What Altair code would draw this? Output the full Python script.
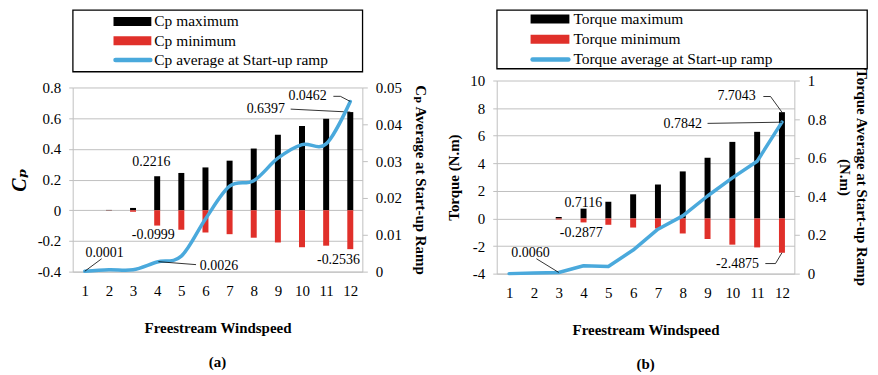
import altair as alt
import pandas as pd

SERIF = "Liberation Serif, Times New Roman, DejaVu Serif, serif"
RED = "#e0302a"
BLUE = "#4aa9dc"
GRID = "#bfbfbf"

ws = list(range(1, 13))

# Panel (a): power coefficient
cp_max = [0.0, 0.002, 0.015, 0.2216, 0.243, 0.279, 0.323, 0.402, 0.492, 0.549, 0.596, 0.6397]
cp_min = [0.0, -0.001, -0.01, -0.0999, -0.127, -0.145, -0.156, -0.179, -0.21, -0.241, -0.231, -0.2536]
cp_avg = [0.0001, 0.0005, 0.0005, 0.0026, 0.0042, 0.0143, 0.0232, 0.0247, 0.0308, 0.0345, 0.0347, 0.0462]

# Panel (b): torque
tq_max = [0.0, 0.0, 0.1, 0.7116, 1.21, 1.75, 2.46, 3.41, 4.4, 5.55, 6.28, 7.7043]
tq_min = [0.0, 0.0, -0.08, -0.2877, -0.46, -0.66, -0.73, -1.09, -1.49, -1.9, -2.1, -2.4875]
tq_avg = [0.0, 0.003, 0.006, 0.041, 0.037, 0.122, 0.23, 0.299, 0.402, 0.496, 0.582, 0.7842]

legend_a = ["Cp maximum", "Cp minimum", "Cp average at Start-up ramp"]
legend_b = ["Torque maximum", "Torque minimum", "Torque average at Start-up ramp"]

# annotations (text placed in data units)
a_left_txt = ["0.2216", "-0.0999", "-0.2536", "0.6397"]
a_left_x = [3.76, 3.84, 11.51, 8.5]
a_left_y = [0.312, -0.162, -0.325, 0.662]
a_right_txt = ["0.0462", "0.0001", "0.0026"]
a_right_x = [10.23, 1.82, 6.56]
a_right_y = [0.0476, 0.00514, 0.00162]
# leader segments (x, y, x2, y2) in data units
a_left_seg = [(12, 0.6397, 9.53, 0.659)]
a_right_seg = [(12, 0.0462, 11.59, 0.0476), (11.59, 0.0476, 11.3, 0.0476),
               (1, 0.0001, 1.70, 0.0035), (4.05, 0.0027, 5.61, 0.0019)]

b_left_txt = ["7.7043", "0.7116", "-0.2877", "-2.4875"]
b_left_x = [10.17, 3.99, 3.91, 10.21]
b_left_y = [8.84, 1.13, -1.04, -3.27]
b_right_txt = ["0.7842", "0.0060"]
b_right_x = [8.0, 1.86]
b_right_y = [0.773, 0.108]
b_left_seg = [(12, 7.7043, 11.54, 8.84), (11.54, 8.84, 11.25, 8.84),
              (12, -2.4875, 11.74, -3.27), (11.74, -3.27, 11.33, -3.27)]
b_right_seg = [(12, 0.7842, 9.0, 0.778), (3, 0.006, 2.1, 0.077)]


def x_enc(title):
    return alt.X("ws:Q", scale=alt.Scale(domain=[0.5, 12.5], nice=False, zero=False, padding=0),
                 axis=alt.Axis(values=ws, title=title, tickSize=0, labelPadding=12,
                               titlePadding=22, domainColor=GRID, grid=False, format="d",
                               labelFontSize=15, titleFontSize=15, titleFontWeight="bold"))


def y_enc(dom, vals, title, orient, italic, tsize, tpad, lpad, tick, grid):
    return alt.Y("val:Q", scale=alt.Scale(domain=dom, nice=False, zero=False, padding=0),
                 axis=alt.Axis(orient=orient, values=vals, labelExpr="'' + datum.value",
                               title=title, grid=grid, gridColor=GRID, domainColor=GRID,
                               tickColor=GRID, tickSize=tick, labelPadding=lpad,
                               titlePadding=tpad, labelFontSize=15, titleFontSize=tsize,
                               titleFontWeight="bold", titleLineHeight=17,
                               titleFontStyle="italic" if italic else "normal"))


def legend_chart(labels, width, height, pad, sx1, sx2, tx):
    df = pd.DataFrame({"label": labels, "kind": ["bar", "bar", "line"],
                       "color": ["black", RED, BLUE]})
    y = alt.Y("label:N", sort=labels, axis=None, scale=alt.Scale(type="point", padding=pad))
    bars = alt.Chart(df).transform_filter("datum.kind == 'bar'").mark_rule(strokeWidth=9).encode(
        x=alt.value(sx1), x2=alt.value(sx2), y=y, color=alt.Color("color:N", scale=None))
    line = alt.Chart(df).transform_filter("datum.kind == 'line'").mark_rule(
        strokeWidth=4.5, strokeCap="round").encode(
        x=alt.value(sx1 + 2), x2=alt.value(sx2 - 1), y=y, color=alt.Color("color:N", scale=None))
    text = alt.Chart(df).mark_text(align="left", baseline="middle", font=SERIF,
                                   fontSize=15.5, color="black").encode(
        x=alt.value(tx), y=y, text="label:N")
    return alt.layer(bars, line, text).properties(
        width=width, height=height, view=alt.ViewBackground(stroke="black", strokeWidth=1.3))


def panel(vmax, vmin, vavg, interp, lt, lx, ly, rt, rx, ry, lseg, rseg,
          ldom, lvals, ltitle, litalic, ltsize, rdom, rvals, rtitle,
          width, height, caption, rtpad):
    X = x_enc("Freestream Windspeed")
    YL = y_enc(ldom, lvals, ltitle, "left", litalic, ltsize, 8, 8, 4, True)
    YR = y_enc(rdom, rvals, rtitle, "right", False, 15, rtpad, 8, 5, False)

    bars_df = pd.DataFrame({
        "ws": ws + ws, "val": vmax + vmin, "base": [0] * 24,
        "series": ["max"] * 12 + ["min"] * 12})
    line_df = pd.DataFrame({"ws": ws, "val": vavg})
    lt_df = pd.DataFrame({"ws": lx, "val": ly, "label": lt})
    rt_df = pd.DataFrame({"ws": rx, "val": ry, "label": rt})
    ls_df = pd.DataFrame(lseg, columns=["ws", "val", "ws2", "val2"])
    rs_df = pd.DataFrame(rseg, columns=["ws", "val", "ws2", "val2"])

    bars = alt.Chart(bars_df).mark_bar(size=6, orient="vertical").encode(
        x=X, y=YL, y2=alt.Y2("base"),
        color=alt.Color("series:N", scale=alt.Scale(domain=["max", "min"], range=["black", RED]),
                        legend=None))
    ltext = alt.Chart(lt_df).mark_text(font=SERIF, fontSize=14, baseline="middle",
                                       align="center", color="black").encode(
        x=X, y=YL, text="label:N")
    lsegs = alt.Chart(ls_df).mark_rule(color="black", strokeWidth=0.8).encode(
        x=X, x2=alt.X2("ws2"), y=YL, y2=alt.Y2("val2"))

    line = alt.Chart(line_df).mark_line(color=BLUE, strokeWidth=3.5, interpolate=interp,
                                        strokeCap="round", strokeJoin="round").encode(x=X, y=YR)
    rtext = alt.Chart(rt_df).mark_text(font=SERIF, fontSize=14, baseline="middle",
                                       align="center", color="black").encode(
        x=X, y=YR, text="label:N")
    rsegs = alt.Chart(rs_df).mark_rule(color="black", strokeWidth=0.8).encode(
        x=X, x2=alt.X2("ws2"), y=YR, y2=alt.Y2("val2"))

    left = alt.layer(bars, ltext, lsegs)
    right = alt.layer(line, rtext, rsegs)
    return alt.layer(left, right).resolve_scale(y="independent").properties(
        width=width, height=height,
        title=alt.TitleParams(caption, orient="bottom", anchor="middle", fontSize=15,
                              font=SERIF, fontWeight="bold", offset=20))


main_a = panel(cp_max, cp_min, cp_avg, "cardinal",
               a_left_txt, a_left_x, a_left_y, a_right_txt, a_right_x, a_right_y,
               a_left_seg, a_right_seg,
               [-0.4, 0.8], [-0.4, -0.2, 0, 0.2, 0.4, 0.6, 0.8], "Cₚ", True, 20,
               [0, 0.05], [0, 0.01, 0.02, 0.03, 0.04, 0.05], "Cₚ Average at Start-up Ramp",
               291, 185, "(a)", 11)

main_b = panel(tq_max, tq_min, tq_avg, "linear",
               b_left_txt, b_left_x, b_left_y, b_right_txt, b_right_x, b_right_y,
               b_left_seg, b_right_seg,
               [-4, 10], [-4, -2, 0, 2, 4, 6, 8, 10], "Torque (N.m)", False, 15,
               [0, 1], [0, 0.2, 0.4, 0.6, 0.8, 1], ["Torque Average at Start-up Ramp", "(N.m)"],
               299, 194, "(b)", 11)

pa = alt.vconcat(legend_chart(legend_a, 291, 62, 0.6, 41, 79, 82), main_a,
                 spacing=16, bounds="flush")
pb = alt.vconcat(legend_chart(legend_b, 372, 59, 0.45, 34, 73, 77), main_b,
                 spacing=12, bounds="flush")

chart = alt.hconcat(pa, pb, spacing=18).properties(
    padding={"left": 0, "top": 0, "right": 0, "bottom": 0}
).configure_view(stroke="transparent").configure_axis(
    labelFont=SERIF, titleFont=SERIF, labelColor="black", titleColor="black"
).configure_text(font=SERIF).configure_title(font=SERIF)

chart.save("out.html", embed_options={"renderer": "svg", "actions": False})
